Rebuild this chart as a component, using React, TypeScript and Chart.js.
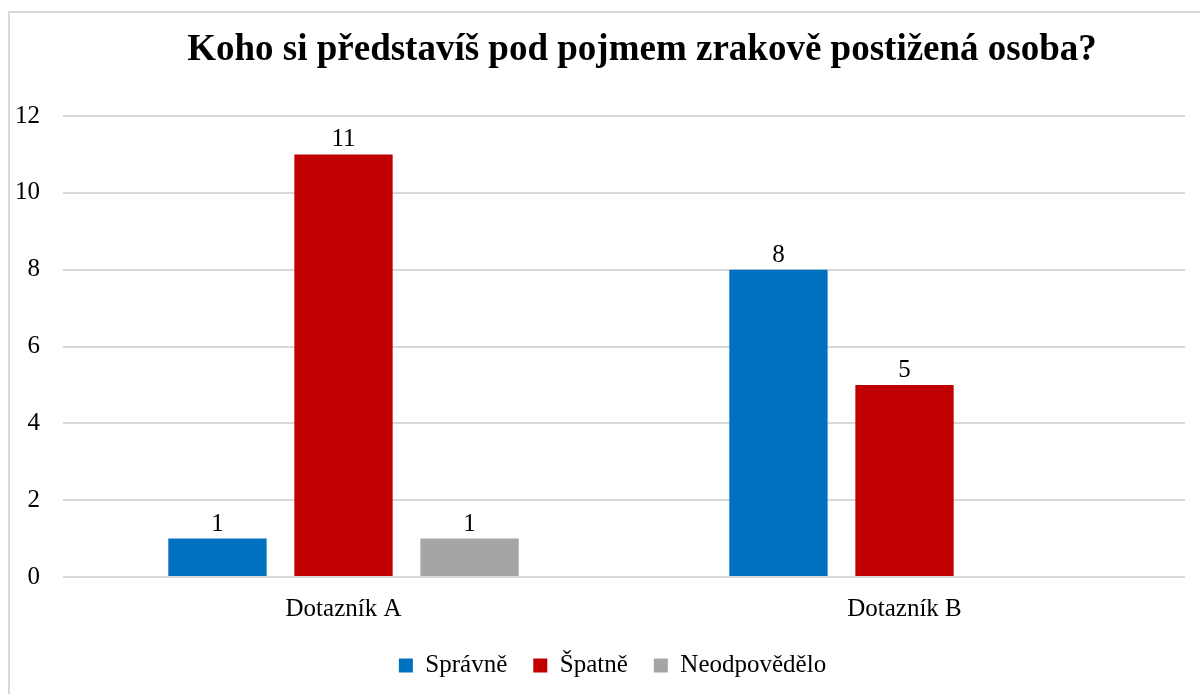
import React, { useEffect, useRef } from "react";
import { Chart, registerables } from "chart.js";

Chart.register(...registerables);

const TITLE = "Koho si představíš pod pojmem zrakově postižená osoba?";
const CATEGORIES = ["Dotazník A", "Dotazník B"];
const SERIES_NAMES = ["Správně", "Špatně", "Neodpovědělo"];
const SPRAVNE = [1, 8];
const SPATNE = [11, 5];
const NEODPOVEDELO: (number | null)[] = [1, null];
const COLORS = ["#0070C0", "#C00000", "#A5A5A5"];
const Y_MIN = 0;
const Y_MAX = 12;
const Y_STEP = 2;

const FONT = '"Liberation Serif", "Times New Roman", serif';

const titlePlugin = {
  id: "customTitle",
  afterDraw(chart: any) {
    const ctx = chart.ctx;
    ctx.save();
    ctx.font = `bold 37px ${FONT}`;
    ctx.fillStyle = "#000";
    ctx.textAlign = "center";
    ctx.textBaseline = "middle";
    ctx.fillText(TITLE, 632, 37);
    ctx.restore();
  },
};

const legendShift = {
  id: "legendShift",
  afterLayout(chart: any) {
    if (chart.legend) {
      chart.legend.left += 15;
      chart.legend.right += 15;
    }
  },
};

const labelPlugin = {
  id: "barLabels",
  afterDatasetsDraw(chart: any) {
    const ctx = chart.ctx;
    ctx.save();
    ctx.font = `25px ${FONT}`;
    ctx.fillStyle = "#000";
    ctx.textAlign = "center";
    ctx.textBaseline = "alphabetic";
    chart.data.datasets.forEach((ds: any, i: number) => {
      const meta = chart.getDatasetMeta(i);
      meta.data.forEach((bar: any, j: number) => {
        const v = ds.data[j];
        if (v === null || v === undefined) return;
        ctx.fillText(String(v), bar.x, bar.y - 8);
      });
    });
    ctx.restore();
  },
};

export default function App() {
  const ref = useRef<HTMLCanvasElement>(null);
  useEffect(() => {
    if (!ref.current) return;
    const chart = new Chart(ref.current, {
      type: "bar",
      data: {
        labels: CATEGORIES,
        datasets: [
          { label: SERIES_NAMES[0], data: SPRAVNE, backgroundColor: COLORS[0] },
          { label: SERIES_NAMES[1], data: SPATNE, backgroundColor: COLORS[1] },
          { label: SERIES_NAMES[2], data: NEODPOVEDELO, backgroundColor: COLORS[2] },
        ],
      },
      options: {
        animation: false,
        responsive: false,
        maintainAspectRatio: false,
        datasets: { bar: { categoryPercentage: 0.674, barPercentage: 0.78 } },
        layout: { padding: { top: 103, right: 31, bottom: 6, left: 0 } },
        plugins: {
          title: { display: false },
          tooltip: { enabled: false },
          legend: {
            position: "bottom",
            labels: {
              font: { family: FONT, size: 25 },
              color: "#000",
              boxWidth: 14,
              boxHeight: 14,
              padding: 26,
            },
          },
        },
        scales: {
          x: {
            grid: { display: false },
            border: { display: false },
            ticks: { font: { family: FONT, size: 25 }, color: "#000", padding: 9 },
            afterFit(scale: any) {
              scale.height = 50;
            },
          },
          y: {
            min: Y_MIN,
            max: Y_MAX,
            ticks: { stepSize: Y_STEP, font: { family: FONT, size: 25 }, color: "#000", padding: 23 },
            grid: { color: "#d9d9d9", lineWidth: 2, drawTicks: false },
            border: { display: false },
            afterFit(scale: any) {
              scale.width = 53;
            },
          },
        },
      },
      plugins: [titlePlugin, labelPlugin, legendShift],
    });
    return () => chart.destroy();
  }, []);

  return (
    <div style={{ position: "absolute", left: 0, top: 0, width: 1200, height: 694, overflow: "hidden", background: "#fff" }}>
      <div
        style={{
          position: "absolute",
          left: 8,
          top: 11,
          width: 1266,
          height: 720,
          border: "2px solid #d9d9d9",
        }}
      />
      <canvas
        ref={ref}
        width={1206}
        height={681}
        style={{ position: "absolute", left: 10, top: 13, width: 1206, height: 681 }}
      />
    </div>
  );
}
